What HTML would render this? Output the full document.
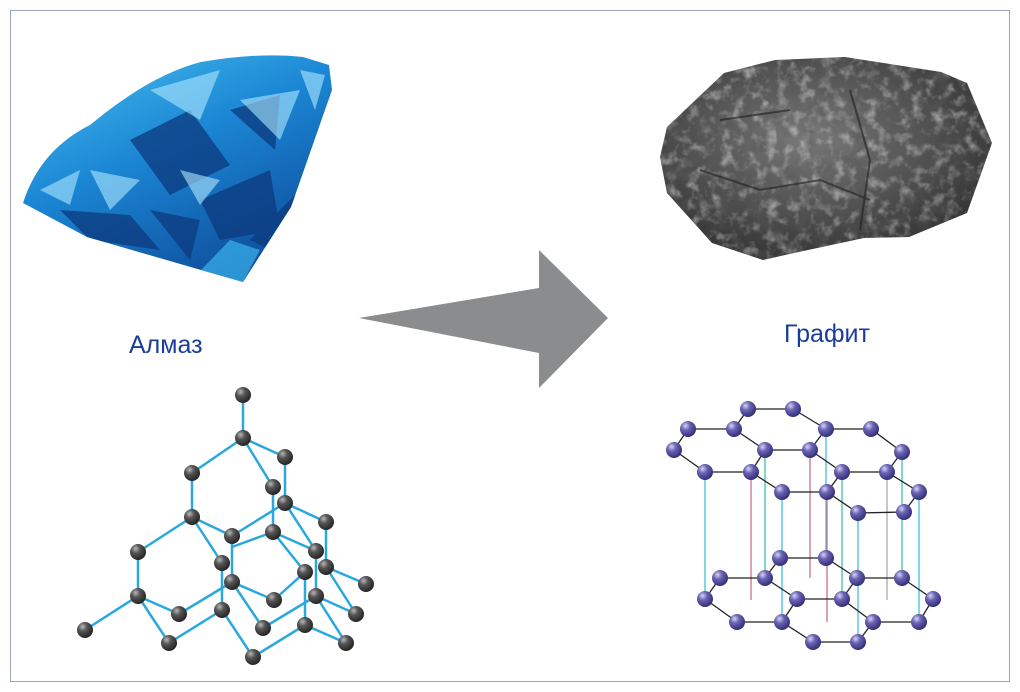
<!DOCTYPE html>
<html><head><meta charset="utf-8"><style>
html,body{margin:0;padding:0;background:#fff;}
svg{display:block;}
</style></head><body>
<svg width="1020" height="692" viewBox="0 0 1020 692" xmlns="http://www.w3.org/2000/svg">
<defs>
<radialGradient id="ga" cx="0.35" cy="0.3" r="0.7"><stop offset="0" stop-color="#b8b8b8"/><stop offset="0.4" stop-color="#555"/><stop offset="1" stop-color="#262626"/></radialGradient>
<radialGradient id="gp" cx="0.35" cy="0.3" r="0.7"><stop offset="0" stop-color="#d6d4f4"/><stop offset="0.4" stop-color="#6a64b4"/><stop offset="1" stop-color="#35307a"/></radialGradient>
<linearGradient id="gem" x1="0" y1="0" x2="0.6" y2="1"><stop offset="0" stop-color="#4cc4f2"/><stop offset="0.5" stop-color="#1b86d4"/><stop offset="1" stop-color="#0e4f9c"/></linearGradient>
<radialGradient id="coal" cx="0.45" cy="0.4" r="0.7"><stop offset="0" stop-color="#7a7a7a"/><stop offset="0.6" stop-color="#4a4a4a"/><stop offset="1" stop-color="#2a2a2a"/></radialGradient>
<filter id="tex" x="0" y="0" width="1" height="1"><feTurbulence type="fractalNoise" baseFrequency="0.09" numOctaves="3" seed="4"/><feColorMatrix type="matrix" values="0 0 0 0 0.85  0 0 0 0 0.85  0 0 0 0 0.85  0 0 0 1.6 -0.75"/></filter>
<filter id="tex2" x="0" y="0" width="1" height="1"><feTurbulence type="fractalNoise" baseFrequency="0.06" numOctaves="2" seed="9"/><feColorMatrix type="matrix" values="0 0 0 0 0.1  0 0 0 0 0.1  0 0 0 0 0.1  0 0 0 1.8 -0.8"/></filter>
<clipPath id="cc"><polygon points="667,127 724,73 775,60 845,57 941,72 967,83 992,143 967,213 909,237 864,238 794,253 763,260 712,243 667,193 660,157"/></clipPath>
<clipPath id="gc"><path d="M23,203 Q40,150 90,125 Q150,75 201,62 Q260,52 303,57 L329,65 L332,90 L291,207 L243,282 L201,270 L87,237 Z"/></clipPath>
</defs>
<rect x="10.5" y="10.5" width="999" height="671" fill="#fff" stroke="#9aa6b8" stroke-width="1"/>
<!-- gem -->
<g clip-path="url(#gc)">
<rect x="20" y="50" width="320" height="235" fill="url(#gem)"/>
<g fill="#0c3a7e" opacity="0.75">
<polygon points="130,140 190,110 230,165 170,195"/>
<polygon points="200,200 270,170 280,230 220,240"/>
<polygon points="60,210 130,215 160,250 90,240"/>
<polygon points="230,110 280,95 275,150"/>
<polygon points="250,240 300,190 290,260"/>
<polygon points="150,210 200,220 190,260"/>
</g>
<g fill="#aee8ff" opacity="0.6">
<polygon points="150,90 220,70 200,120"/>
<polygon points="240,100 300,90 280,140"/>
<polygon points="90,170 140,180 110,210"/>
<polygon points="180,170 220,180 200,205"/>
<polygon points="40,190 80,170 70,205"/>
<polygon points="300,70 325,75 315,110"/>
</g>
<polygon points="201,270 243,282 260,250 230,240" fill="#3bb2ec" opacity="0.7"/>
</g>
<!-- coal -->
<polygon points="667,127 724,73 775,60 845,57 941,72 967,83 992,143 967,213 909,237 864,238 794,253 763,260 712,243 667,193 660,157" fill="url(#coal)"/>
<g clip-path="url(#cc)">
<rect x="655" y="55" width="340" height="210" filter="url(#tex)" opacity="0.8"/>
<rect x="655" y="55" width="340" height="210" filter="url(#tex2)" opacity="0.8"/>
</g>
<path d="M700,170 L760,190 L820,180 L870,200 M850,90 L870,160 L860,230 M720,120 L790,110" stroke="#1e1e1e" stroke-width="2" fill="none" opacity="0.6"/>
<!-- arrow -->
<polygon points="359,318 539,288 539,250 608,318 539,388 539,353" fill="#8b8c8e"/>
<text x="129" y="353" font-family="Liberation Sans, sans-serif" font-size="25" fill="#1b3c9a">Алмаз</text>
<text x="784" y="342" font-family="Liberation Sans, sans-serif" font-size="25" fill="#1b3c9a">Графит</text>
<!-- diamond lattice -->
<g stroke="#29a8e0" stroke-width="2.5">
<line x1="243" y1="395" x2="243" y2="438"/><line x1="243" y1="438" x2="192" y2="473"/><line x1="243" y1="438" x2="285" y2="457"/><line x1="243" y1="438" x2="273" y2="487"/>
<line x1="285" y1="457" x2="285" y2="503"/><line x1="192" y1="473" x2="192" y2="517"/><line x1="273" y1="487" x2="273" y2="532"/>
<line x1="232" y1="536" x2="285" y2="503"/><line x1="285" y1="503" x2="326" y2="522"/><line x1="285" y1="503" x2="316" y2="551"/>
<line x1="326" y1="522" x2="326" y2="567"/><line x1="192" y1="517" x2="232" y2="536"/><line x1="192" y1="517" x2="222" y2="563"/><line x1="192" y1="517" x2="138" y2="552"/>
<line x1="232" y1="536" x2="232" y2="582"/><line x1="273" y1="532" x2="316" y2="551"/><line x1="273" y1="532" x2="305" y2="572"/><line x1="232" y1="547" x2="273" y2="532"/>
<line x1="138" y1="552" x2="138" y2="596"/><line x1="138" y1="596" x2="85" y2="630"/><line x1="138" y1="596" x2="179" y2="614"/><line x1="138" y1="596" x2="169" y2="643"/>
<line x1="179" y1="614" x2="232" y2="582"/><line x1="222" y1="563" x2="222" y2="610"/><line x1="232" y1="582" x2="274" y2="600"/><line x1="232" y1="582" x2="263" y2="628"/>
<line x1="274" y1="600" x2="305" y2="572"/><line x1="305" y1="572" x2="305" y2="625"/><line x1="316" y1="551" x2="316" y2="596"/><line x1="326" y1="567" x2="366" y2="584"/><line x1="326" y1="567" x2="356" y2="614"/>
<line x1="316" y1="596" x2="356" y2="614"/><line x1="316" y1="596" x2="263" y2="628"/><line x1="222" y1="610" x2="169" y2="643"/><line x1="222" y1="610" x2="253" y2="657"/>
<line x1="253" y1="657" x2="305" y2="625"/><line x1="305" y1="625" x2="346" y2="643"/><line x1="316" y1="596" x2="346" y2="643"/>
</g>
<g fill="url(#ga)">
<circle cx="243" cy="395" r="8"/><circle cx="243" cy="438" r="8"/><circle cx="285" cy="457" r="8"/><circle cx="192" cy="473" r="8"/><circle cx="273" cy="487" r="8"/><circle cx="285" cy="503" r="8"/><circle cx="192" cy="517" r="8"/><circle cx="326" cy="522" r="8"/><circle cx="232" cy="536" r="8"/><circle cx="273" cy="532" r="8"/><circle cx="138" cy="552" r="8"/><circle cx="316" cy="551" r="8"/><circle cx="222" cy="563" r="8"/><circle cx="326" cy="567" r="8"/><circle cx="305" cy="572" r="8"/><circle cx="232" cy="582" r="8"/><circle cx="366" cy="584" r="8"/><circle cx="138" cy="596" r="8"/><circle cx="316" cy="596" r="8"/><circle cx="274" cy="600" r="8"/><circle cx="179" cy="614" r="8"/><circle cx="222" cy="610" r="8"/><circle cx="356" cy="614" r="8"/><circle cx="85" cy="630" r="8"/><circle cx="263" cy="628" r="8"/><circle cx="305" cy="625" r="8"/><circle cx="169" cy="643" r="8"/><circle cx="346" cy="643" r="8"/><circle cx="253" cy="657" r="8"/>
</g>
<!-- graphite -->
<g stroke-width="1.3">
<line x1="705" y1="472" x2="705" y2="599" stroke="#3cc4d8"/>
<line x1="765" y1="450" x2="765" y2="578" stroke="#3cc4a8"/>
<line x1="782" y1="492" x2="782" y2="622" stroke="#3cc4d8"/>
<line x1="826" y1="429" x2="826" y2="558" stroke="#3cc4d8"/>
<line x1="842" y1="472" x2="842" y2="599" stroke="#3cc4a8"/>
<line x1="858" y1="513" x2="858" y2="642" stroke="#3cc4d8"/>
<line x1="902" y1="452" x2="902" y2="578" stroke="#3cc4a8"/>
<line x1="919" y1="492" x2="919" y2="622" stroke="#3cc4d8"/>
<line x1="751" y1="472" x2="751" y2="600" stroke="#c87090"/>
<line x1="810" y1="450" x2="810" y2="578" stroke="#c87090"/>
<line x1="827" y1="492" x2="827" y2="622" stroke="#c87090"/>
<line x1="887" y1="472" x2="887" y2="600" stroke="#aaa"/>
</g>
<g stroke="#222" stroke-width="1.3">
<line x1="748" y1="409" x2="793" y2="409"/><line x1="748" y1="409" x2="734" y2="429"/><line x1="793" y1="409" x2="826" y2="429"/><line x1="688" y1="429" x2="734" y2="429"/><line x1="688" y1="429" x2="674" y2="450"/><line x1="674" y1="450" x2="705" y2="472"/><line x1="705" y1="472" x2="751" y2="472"/><line x1="734" y1="429" x2="765" y2="450"/><line x1="765" y1="450" x2="810" y2="450"/><line x1="810" y1="450" x2="826" y2="429"/><line x1="826" y1="429" x2="871" y2="429"/><line x1="871" y1="429" x2="902" y2="452"/><line x1="902" y1="452" x2="887" y2="472"/><line x1="887" y1="472" x2="842" y2="472"/><line x1="842" y1="472" x2="810" y2="450"/><line x1="842" y1="472" x2="827" y2="492"/><line x1="827" y1="492" x2="782" y2="492"/><line x1="782" y1="492" x2="751" y2="472"/><line x1="827" y1="492" x2="858" y2="513"/><line x1="858" y1="513" x2="904" y2="512"/><line x1="904" y1="512" x2="919" y2="492"/><line x1="919" y1="492" x2="887" y2="472"/><line x1="751" y1="472" x2="765" y2="450"/>
<line x1="780" y1="558" x2="826" y2="558"/><line x1="780" y1="558" x2="765" y2="578"/><line x1="826" y1="558" x2="857" y2="578"/><line x1="720" y1="578" x2="765" y2="578"/><line x1="720" y1="578" x2="705" y2="599"/><line x1="705" y1="599" x2="737" y2="622"/><line x1="737" y1="622" x2="782" y2="622"/><line x1="765" y1="578" x2="797" y2="599"/><line x1="797" y1="599" x2="842" y2="599"/><line x1="842" y1="599" x2="857" y2="578"/><line x1="857" y1="578" x2="902" y2="578"/><line x1="902" y1="578" x2="933" y2="599"/><line x1="933" y1="599" x2="919" y2="622"/><line x1="919" y1="622" x2="873" y2="622"/><line x1="873" y1="622" x2="842" y2="599"/><line x1="797" y1="599" x2="782" y2="622"/><line x1="782" y1="622" x2="813" y2="642"/><line x1="813" y1="642" x2="858" y2="642"/><line x1="858" y1="642" x2="873" y2="622"/>
</g>
<g fill="url(#gp)">
<circle cx="748" cy="409" r="8"/><circle cx="793" cy="409" r="8"/><circle cx="688" cy="429" r="8"/><circle cx="734" cy="429" r="8"/><circle cx="826" cy="429" r="8"/><circle cx="871" cy="429" r="8"/><circle cx="674" cy="450" r="8"/><circle cx="765" cy="450" r="8"/><circle cx="810" cy="450" r="8"/><circle cx="902" cy="452" r="8"/><circle cx="705" cy="472" r="8"/><circle cx="751" cy="472" r="8"/><circle cx="842" cy="472" r="8"/><circle cx="887" cy="472" r="8"/><circle cx="782" cy="492" r="8"/><circle cx="827" cy="492" r="8"/><circle cx="919" cy="492" r="8"/><circle cx="858" cy="513" r="8"/><circle cx="904" cy="512" r="8"/>
<circle cx="780" cy="558" r="8"/><circle cx="826" cy="558" r="8"/><circle cx="720" cy="578" r="8"/><circle cx="765" cy="578" r="8"/><circle cx="857" cy="578" r="8"/><circle cx="902" cy="578" r="8"/><circle cx="705" cy="599" r="8"/><circle cx="797" cy="599" r="8"/><circle cx="842" cy="599" r="8"/><circle cx="933" cy="599" r="8"/><circle cx="737" cy="622" r="8"/><circle cx="782" cy="622" r="8"/><circle cx="873" cy="622" r="8"/><circle cx="919" cy="622" r="8"/><circle cx="813" cy="642" r="8"/><circle cx="858" cy="642" r="8"/>
</g>
</svg>
</body></html>
